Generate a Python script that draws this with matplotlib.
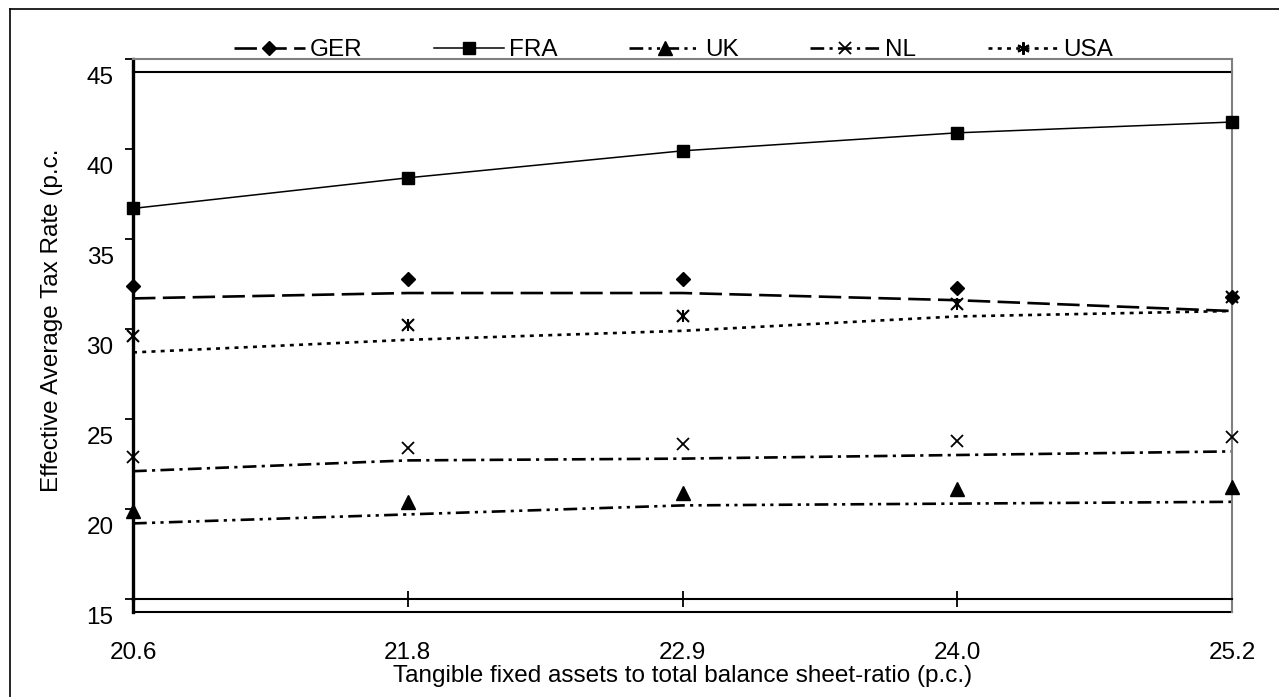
import matplotlib.pyplot as plt
import numpy as np
from matplotlib.lines import Line2D
from matplotlib.transforms import ScaledTranslation

plt.rcParams['font.family'] = ['Liberation Sans', 'DejaVu Sans']
plt.rcParams['font.size'] = 17.5

# x categories (tangible fixed assets ratio)
categories = ['20.6', '21.8', '22.9', '24.0', '25.2']

# marker values and line values
ger_pts = [32.4, 32.8, 32.8, 32.3, 31.8]
ger_line = [31.7, 32.0, 32.0, 31.6, 31.0]
fra_pts = [36.7, 38.4, 39.9, 40.9, 41.5]
fra_line = [36.7, 38.4, 39.9, 40.9, 41.5]
uk_pts = [19.9, 20.4, 20.9, 21.1, 21.2]
uk_line = [19.2, 19.7, 20.2, 20.3, 20.4]
nl_pts = [22.9, 23.4, 23.6, 23.8, 24.0]
nl_line = [22.1, 22.7, 22.8, 23.0, 23.2]
usa_pts = [29.6, 30.2, 30.7, 31.4, 31.8]
usa_line = [28.7, 29.4, 29.9, 30.7, 31.0]

yticks = [15, 20, 25, 30, 35, 40, 45]

fig = plt.figure(figsize=(12.79, 6.97), dpi=100)
ax = fig.add_axes([0.104, 0.1406, 0.8593, 0.7747])

x = np.arange(len(categories))

# lines
ax.plot(x, ger_line, color='k', lw=1.9, dashes=(8.5, 2.8), dash_capstyle='butt')
ax.plot(x, fra_line, color='k', lw=1.1)
ax.plot(x, uk_line, color='k', lw=1.9, dashes=(5.2, 2, 1.2, 2, 1.2, 2), dash_capstyle='butt')
ax.plot(x, nl_line, color='k', lw=1.9, dashes=(5.2, 2, 1.2, 2), dash_capstyle='butt')
ax.plot(x, usa_line, color='k', lw=1.9, dashes=(1.5, 2), dash_capstyle='butt')

# markers
ax.plot(x, ger_pts, ls='none', marker='D', ms=7.5, color='k', clip_on=False, zorder=5)
ax.plot(x, fra_pts, ls='none', marker='s', ms=8.5, color='k', clip_on=False, zorder=5)
ax.plot(x, uk_pts, ls='none', marker='^', ms=10, color='k', clip_on=False, zorder=5)
ax.plot(x, nl_pts, ls='none', marker='x', ms=8.5, mew=1.3, color='k', clip_on=False, zorder=5)
ax.plot(x, usa_pts, ls='none', marker='x', ms=8, mew=1.5, color='k', clip_on=False, zorder=5)
ax.plot(x, usa_pts, ls='none', marker='|', ms=9, mew=1.5, color='k', clip_on=False, zorder=5)

ax.set_xlim(0, len(categories) - 1)
ax.set_ylim(15, 45)
ax.set_xticks(x)
ax.set_xticklabels(categories)
ax.set_yticks(yticks)
ax.tick_params(axis='x', direction='inout', length=12, width=1.3, pad=25)
ax.tick_params(axis='y', direction='out', length=6, width=1.3, pad=8)

# y tick labels sit a bit below their ticks in the original
shift = ScaledTranslation(0, -16 / 100, fig.dpi_scale_trans)
for t in ax.yaxis.get_major_ticks():
    t.label1.set_transform(t.label1.get_transform() + shift)

for side in ['top', 'right']:
    ax.spines[side].set_color('#808080')
    ax.spines[side].set_linewidth(1.5)
ax.spines['left'].set_linewidth(2.4)
ax.spines['bottom'].set_linewidth(1.5)

# extra frame lines of the original plot area
ax.plot([0, 1], [0.976, 0.976], transform=ax.transAxes, color='k', lw=1.5, clip_on=False)
ax.plot([0, 1], [-0.024, -0.024], transform=ax.transAxes, color='k', lw=1.5, clip_on=False)
ax.plot([1, 1], [-0.024, 0], transform=ax.transAxes, color='#808080', lw=1.5, clip_on=False)
ax.plot([0, 0], [-0.024, 0], transform=ax.transAxes, color='k', lw=2.4, clip_on=False)

ax.set_xlabel('Tangible fixed assets to total balance sheet-ratio (p.c.)')
ax.xaxis.set_label_coords(0.5, -0.122)
ax.set_ylabel('Effective Average Tax Rate (p.c.')
ax.yaxis.set_label_coords(-0.064, 0.517)

handles = [
    Line2D([], [], color='k', lw=1.9, dashes=(8.5, 2.8), marker='D', ms=7.5),
    Line2D([], [], color='k', lw=1.1, marker='s', ms=8.5),
    Line2D([], [], color='k', lw=1.9, dashes=(5.2, 2, 1.2, 2, 1.2, 2), marker='^', ms=10),
    Line2D([], [], color='k', lw=1.9, dashes=(5.2, 2, 1.2, 2), marker='x', ms=8.5, mew=1.3),
    Line2D([], [], color='k', lw=1.9, dashes=(1.5, 2), marker=(6, 2, 0), ms=9, mew=1.5),
]
ax.legend(handles, ['GER', 'FRA', 'UK', 'NL', 'USA'], ncol=5, frameon=False,
          loc='center', bbox_to_anchor=(0.492, 1.016), handlelength=2.9,
          handletextpad=0.2, columnspacing=2.95, borderaxespad=0)

# outer border of the original figure
fig.add_artist(Line2D([10 / 1279, 10 / 1279], [0, 1 - 9 / 697], color='k', lw=1.2))
fig.add_artist(Line2D([10 / 1279, 1], [1 - 9 / 697, 1 - 9 / 697], color='k', lw=1.2))

fig.savefig('out.png', dpi=100)
